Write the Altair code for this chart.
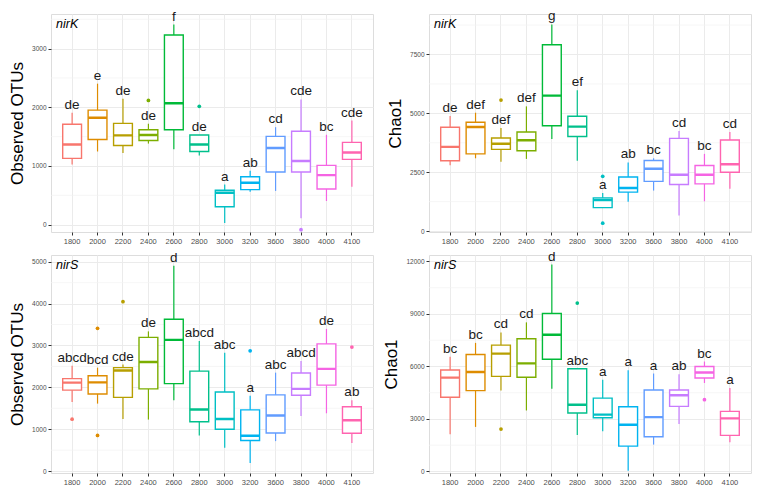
import altair as alt
import pandas as pd

cats = ["1800", "2000", "2200", "2400", "2600", "2800", "3000", "3200", "3600", "3800", "4000", "4100"]
colors = ["#F8766D", "#DE8C00", "#B79F00", "#7CAE00", "#00BA38", "#00C08B",
          "#00BFC4", "#00B4F0", "#619CFF", "#C77CFF", "#F564E3", "#FF64B0"]

# Panel A: nirK, Observed OTUs
a_low = [1027, 1247, 1220, 1382, 1285, 1177, 27, 559, 575, 108, 403, 645]
a_q1 = [1129, 1452, 1349, 1435, 1618, 1247, 306, 597, 898, 898, 608, 1113]
a_med = [1366, 1823, 1522, 1527, 2070, 1366, 543, 715, 1306, 1086, 844, 1231]
a_q3 = [1710, 1952, 1726, 1618, 3231, 1527, 586, 817, 1505, 1591, 1011, 1403]
a_high = [1909, 2403, 2145, 1720, 3409, 1527, 683, 919, 1661, 2134, 1532, 1774]
a_letters = ["de", "e", "de", "de", "f", "de", "a", "ab", "cd", "cde", "bc", "cde"]
a_out_cat = ["2400", "2800", "3800"]
a_out_val = [2118, 2016, -86]

# Panel B: nirK, Chao1
b_low = [2796, 3091, 2944, 3065, 3911, 2984, 995, 1250, 1720, 659, 1263, 1801]
b_q1 = [2984, 3280, 3468, 3414, 4476, 4019, 995, 1653, 2110, 1976, 2003, 2500]
b_med = [3575, 4422, 3710, 3858, 5753, 4435, 1317, 1828, 2648, 2392, 2392, 2836]
b_q3 = [4409, 4624, 3952, 4207, 7917, 4879, 1411, 2298, 2997, 3938, 2782, 3871]
b_high = [4892, 5027, 4382, 5296, 8777, 5981, 1613, 2917, 3091, 4247, 3280, 4207]
b_letters = ["de", "def", "def", "def", "g", "ef", "a", "ab", "bc", "cd", "bc", "cd"]
b_out_cat = ["2200", "3000", "3000"]
b_out_val = [5565, 2325, 336]

# Panel C: nirS, Observed OTUs
c_low = [1649, 1612, 1246, 1231, 1694, 851, 560, 194, 716, 1313, 1381, 672]
c_q1 = [1933, 1843, 1761, 1963, 2090, 1179, 1000, 731, 910, 1813, 2052, 903]
c_med = [2112, 2119, 2403, 2604, 3134, 1470, 1246, 843, 1328, 1963, 2440, 1216]
c_q3 = [2209, 2276, 2470, 3194, 3627, 2388, 1888, 1463, 1821, 2343, 3037, 1537]
c_high = [2515, 2470, 2545, 3336, 4903, 3104, 2828, 1799, 2351, 2627, 3396, 1694]
c_letters = ["abcd", "bcd", "cde", "de", "d", "abcd", "abc", "a", "abc", "abcd", "de", "ab"]
c_out_cat = ["1800", "2000", "2000", "2200", "3200", "4100"]
c_out_val = [1239, 3410, 851, 4045, 2873, 2963]

# Panel D: nirS, Chao1
d_low = [2130, 2545, 4621, 3484, 4729, 2076, 2292, 36, 1534, 2708, 5054, 1661]
d_q1 = [4242, 4621, 5433, 5379, 6408, 3339, 3069, 1444, 1986, 3718, 5343, 2058]
d_med = [5361, 5686, 6733, 6173, 7816, 3809, 3249, 2671, 3105, 4350, 5650, 3032]
d_q3 = [5794, 6679, 7220, 7581, 9025, 5866, 4188, 3700, 4657, 4657, 5993, 3430]
d_high = [6552, 7347, 7942, 8520, 11823, 5866, 5235, 5776, 5596, 5560, 6282, 4765]
d_letters = ["bc", "bc", "cd", "cd", "d", "abc", "a", "a", "a", "ab", "bc", "a"]
d_out_cat = ["2200", "2800", "4000"]
d_out_val = [2419, 9621, 4097]

W, H = 322, 218
FONT = "Liberation Sans"


def panel(low, q1, med, q3, high, letters, out_cat, out_val, gene, ytitle,
          domain, ticks, minor):
    df = pd.DataFrame({"elev": cats, "low": low, "q1": q1, "med": med,
                       "q3": q3, "high": high, "letter": letters})
    odf = pd.DataFrame({"elev": out_cat, "val": out_val})
    mdf = pd.DataFrame({"v": minor})
    ldf = pd.DataFrame({"g": [gene]})

    xs = alt.Scale(type="band", domain=cats, paddingInner=0, paddingOuter=0.33)
    ys = alt.Scale(domain=domain, nice=False, zero=False)
    x = alt.X("elev:N", sort=cats, scale=xs,
              axis=alt.Axis(title=None, labelAngle=0, grid=True, bandPosition=0.5,
                            labelFontSize=7.5, labelColor="#4D4D4D", labelFont=FONT,
                            tickColor="#333333", tickSize=3, labelPadding=2,
                            domain=False, gridColor="#EBEBEB", gridWidth=1))
    col = alt.Color("elev:N", scale=alt.Scale(domain=cats, range=colors), legend=None)
    stk = alt.Stroke("elev:N", scale=alt.Scale(domain=cats, range=colors), legend=None)

    minor_grid = alt.Chart(mdf).mark_rule(color="#F2F2F2", strokeWidth=0.7).encode(
        y=alt.Y("v:Q", scale=ys,
                axis=alt.Axis(title=ytitle, values=ticks, format="d", grid=True,
                              gridColor="#EBEBEB", gridWidth=1, labelFontSize=6.5,
                              labelColor="#4D4D4D", labelFont=FONT,
                              tickColor="#333333", tickSize=3,
                              labelPadding=2, domain=False, titleFont=FONT,
                              titleFontSize=17, titleFontWeight="normal",
                              titleColor="#000000", titlePadding=5)))
    base = alt.Chart(df)
    whisk = base.mark_rule(strokeWidth=1.2).encode(
        x=x, y=alt.Y("low:Q", scale=ys), y2="high:Q", color=col)
    box = base.mark_bar(fill="white", strokeWidth=1.4,
                        width=alt.RelativeBandSize(0.74)).encode(
        x=x, y=alt.Y("q1:Q", scale=ys), y2="q3:Q", stroke=stk)
    medl = base.mark_bar(fill="white", strokeWidth=2.4,
                         width=alt.RelativeBandSize(0.74)).encode(
        x=x, y=alt.Y("med:Q", scale=ys), y2="med:Q", stroke=stk)
    outl = alt.Chart(odf).mark_circle(size=14, opacity=1).encode(
        x=x, y=alt.Y("val:Q", scale=ys), color=col)
    txt = base.mark_text(baseline="bottom", dy=-1, fontSize=13.5, font=FONT,
                         color="#1A1A1A").encode(
        x=x, y=alt.Y("high:Q", scale=ys), text="letter:N")
    lab = alt.Chart(ldf).mark_text(align="left", baseline="top", fontSize=12.5,
                                   fontStyle="italic", font=FONT, color="#000000").encode(
        x=alt.value(5), y=alt.value(4), text="g:N")
    return alt.layer(minor_grid, whisk, box, medl, outl, txt, lab).properties(
        width=W, height=H)


pA = panel(a_low, a_q1, a_med, a_q3, a_high, a_letters, a_out_cat, a_out_val,
           "nirK", "Observed OTUs", [-125, 3590], [0, 1000, 2000, 3000],
           [500, 1500, 2500, 3500])
pB = panel(b_low, b_q1, b_med, b_q3, b_high, b_letters, b_out_cat, b_out_val,
           "nirK", "Chao1", [-40, 9220], [0, 2500, 5000, 7500],
           [1250, 3750, 6250, 8750])
pC = panel(c_low, c_q1, c_med, c_q3, c_high, c_letters, c_out_cat, c_out_val,
           "nirS", "Observed OTUs", [-45, 5160], [0, 1000, 2000, 3000, 4000, 5000],
           [500, 1500, 2500, 3500, 4500])
pD = panel(d_low, d_q1, d_med, d_q3, d_high, d_letters, d_out_cat, d_out_val,
           "nirS", "Chao1", [-90, 12370], [0, 3000, 6000, 9000, 12000],
           [1500, 4500, 7500, 10500])

chart = alt.concat(pA, pB, pC, pD, columns=2,
                   spacing={"row": 4, "column": 8}).properties(
    padding={"left": 0, "top": 0, "right": 0, "bottom": 0}
).configure_view(stroke="#333333", strokeWidth=1.2).configure(background="white")

chart.save("out.html", embed_options={"renderer": "svg", "actions": False})
